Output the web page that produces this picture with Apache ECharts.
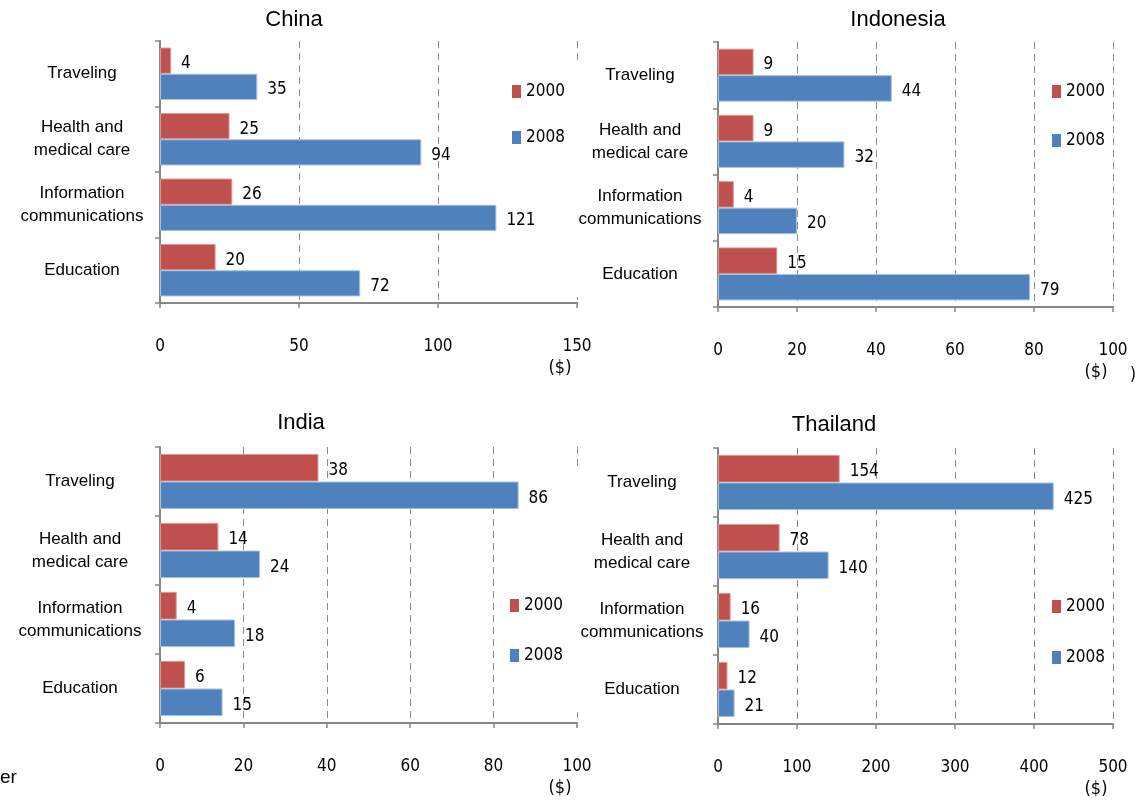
<!DOCTYPE html>
<html>
<head>
<meta charset="utf-8">
<script src="https://cdn.jsdelivr.net/npm/echarts@6/dist/echarts.min.js"></script>
<style>
  html, body { margin: 0; padding: 0; background: #ffffff; }
  #chart { width: 1146px; height: 800px; }
</style>
</head>
<body>
<div id="chart"></div>
<script>
// Household spending per category, 2000 vs 2008 ($)
const categories = ['Traveling', 'Health and\nmedical care', 'Information\ncommunications', 'Education'];
const seriesNames = ['2000', '2008'];

const china2000 = [4, 25, 26, 20];
const china2008 = [35, 94, 121, 72];
const indonesia2000 = [9, 9, 4, 15];
const indonesia2008 = [44, 32, 20, 79];
const india2000 = [38, 14, 4, 6];
const india2008 = [86, 24, 18, 15];
const thailand2000 = [154, 78, 16, 12];
const thailand2008 = [425, 140, 40, 21];

const chinaTicks = [0, 50, 100, 150];
const indonesiaTicks = [0, 20, 40, 60, 80, 100];
const indiaTicks = [0, 20, 40, 60, 80, 100];
const thailandTicks = [0, 100, 200, 300, 400, 500];

const unitLabel = '($)';

const RED = '#C0504D';
const BLUE = '#4F81BD';
const AXIS_GRAY = '#868686';
const NARROW = '"Liberation Sans Narrow", "DejaVu Sans Condensed", "Liberation Sans", sans-serif';
const SANS = '"Liberation Sans", Arial, sans-serif';

const panels = [
  { title: 'China', v2000: china2000, v2008: china2008, ticks: chinaTicks,
    grid: { left: 160, top: 41, width: 417, height: 262 }, titlePos: [294, 20],
    legend: { left: 512, top: 83, gap: 29 }, labelMargin: 78, coverRight: [61, 236] },
  { title: 'Indonesia', v2000: indonesia2000, v2008: indonesia2008, ticks: indonesiaTicks,
    grid: { left: 718, top: 42, width: 395, height: 265 }, titlePos: [898, 20],
    legend: { left: 1052, top: 83, gap: 32 }, labelMargin: 78, yz: 2 },
  { title: 'India', v2000: india2000, v2008: india2008, ticks: indiaTicks,
    grid: { left: 160, top: 447, width: 417, height: 276 }, titlePos: [301, 423],
    legend: { left: 510, top: 597, gap: 33 }, labelMargin: 80, coverRight: [468, 244] },
  { title: 'Thailand', v2000: thailand2000, v2008: thailand2008, ticks: thailandTicks,
    grid: { left: 718, top: 448, width: 395, height: 276 }, titlePos: [834, 425],
    legend: { left: 1052, top: 598, gap: 34 }, labelMargin: 76, yz: 2 }
];

const grids = [], xAxes = [], yAxes = [], series = [], legends = [], graphics = [];

panels.forEach((p, i) => {
  grids.push(Object.assign({ containLabel: false }, p.grid));

  const t = p.ticks;
  xAxes.push({
    type: 'value', gridIndex: i,
    min: t[0], max: t[t.length - 1], interval: t[1] - t[0],
    axisLine: { show: true, lineStyle: { color: AXIS_GRAY, width: 2 } },
    axisTick: { show: true, length: 5, lineStyle: { color: AXIS_GRAY, width: 1.5 } },
    axisLabel: { margin: 35, fontFamily: NARROW, fontSize: 17, color: '#000' },
    splitLine: { show: true, lineStyle: { color: '#8c8c8c', width: 1, type: [7, 5] } },
    name: unitLabel, nameLocation: 'end', nameGap: -17,
    nameTextStyle: { fontFamily: NARROW, fontSize: 18, color: '#000',
      align: 'center', verticalAlign: 'top', padding: [56, 0, 0, 0] }
  });

  yAxes.push({
    type: 'category', gridIndex: i, data: categories, inverse: true,
    z: p.yz || 0,
    axisLine: { show: true, lineStyle: { color: AXIS_GRAY, width: 2 } },
    axisTick: { show: true, length: 5, lineStyle: { color: AXIS_GRAY, width: 1.5 } },
    axisLabel: { margin: p.labelMargin, align: 'center', fontFamily: SANS,
      fontSize: 17, lineHeight: 23, color: '#000' },
    splitLine: { show: false }
  });

  [[p.v2000, RED, '#d99694'], [p.v2008, BLUE, '#a7c0de']].forEach((s, k) => {
    series.push({
      type: 'bar', name: seriesNames[k], xAxisIndex: i, yAxisIndex: i,
      data: s[0], barGap: '0%', barCategoryGap: '20%',
      itemStyle: { color: s[1], borderColor: s[2], borderWidth: 1 },
      label: { show: true, position: 'right', distance: 10, offset: [0, 3],
        fontFamily: NARROW, fontSize: 17, color: '#000' },
      emphasis: { disabled: true },
      animation: false
    });
  });

  legends.push({
    data: seriesNames, orient: 'vertical', left: p.legend.left, top: p.legend.top,
    itemGap: p.legend.gap, itemWidth: 9, itemHeight: 13, icon: 'rect',
    itemStyle: { borderWidth: 0 }, selectedMode: false, padding: 0,
    textStyle: { fontFamily: NARROW, fontSize: 17, color: '#000', lineHeight: 13 }
  });

  graphics.push({
    type: 'text', x: p.titlePos[0], y: p.titlePos[1], z: 10,
    style: { text: p.title, font: '22px ' + SANS, fill: '#000', align: 'center', verticalAlign: 'middle' }
  });

  // neighbouring panel's white plot background hides the last gridline
  if (p.coverRight) {
    const rx = p.grid.left + p.grid.width;
    graphics.push({
      type: 'rect', z: 1,
      shape: { x: rx - 4, y: p.coverRight[0], width: 8, height: p.coverRight[1] },
      style: { fill: '#ffffff' }
    });
  }
});

graphics.push(
  { type: 'text', x: 0, y: 778, z: 10,
    style: { text: 'er', font: '19px ' + SANS, fill: '#000', align: 'left', verticalAlign: 'middle' } },
  { type: 'text', x: 1133, y: 376, z: 10,
    style: { text: ')', font: '17px ' + NARROW, fill: '#000', align: 'center', verticalAlign: 'middle' } }
);

const chart = echarts.init(document.getElementById('chart'), null, { renderer: 'canvas' });
chart.setOption({
  backgroundColor: '#ffffff',
  animation: false,
  grid: grids,
  xAxis: xAxes,
  yAxis: yAxes,
  legend: legends,
  series: series,
  graphic: graphics
});
</script>
</body>
</html>
